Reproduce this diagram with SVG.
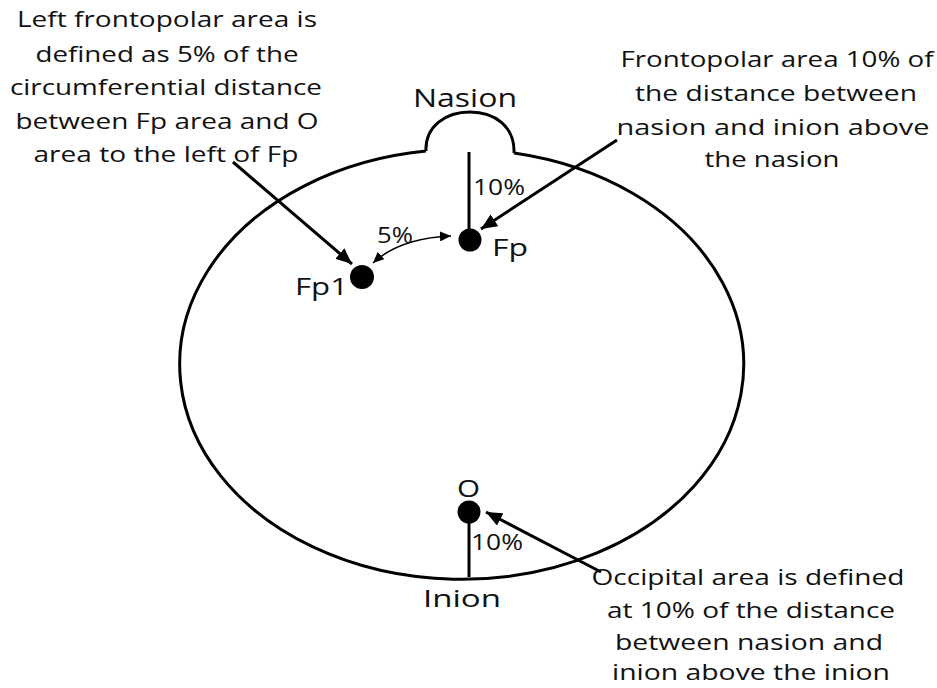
<svg xmlns="http://www.w3.org/2000/svg" width="937" height="688" viewBox="0 0 937 688">
<style>
text{font-family:"Open Sans","Liberation Sans",sans-serif;fill:#111;font-weight:500;}
.blk{font-size:22px;text-anchor:middle;}
.lbl{font-size:24px;}
.ln{stroke:#000;stroke-width:3;fill:none;}
.thin{stroke:#000;stroke-width:1.5;fill:none;}
</style>
<defs>
<marker id="ah" markerUnits="userSpaceOnUse" markerWidth="18" markerHeight="14" refX="16" refY="7" orient="auto">
<path d="M0,0 L16,7 L0,14 Z" fill="#000"/>
</marker>
<marker id="sh" markerUnits="userSpaceOnUse" markerWidth="12" markerHeight="10" refX="11" refY="5" orient="auto-start-reverse">
<path d="M0,0 L11,5 L0,10 Z" fill="#000"/>
</marker>
</defs>
<rect width="937" height="688" fill="#fff"/>
<g id="head">
<path class="ln" d="M426,151 A282,215 0 1 0 514,153"/>
<path class="ln" d="M426,151 C425,126 446,112 470,112 C494,112 515,126 514,153"/>
</g>
<g id="connectors">
<line class="ln" x1="469" y1="152" x2="469" y2="240"/>
<line class="ln" x1="469" y1="512" x2="469" y2="577"/>
<line class="ln" x1="233" y1="162" x2="352" y2="264" marker-end="url(#ah)"/>
<line class="ln" x1="617" y1="140" x2="481" y2="229" marker-end="url(#ah)"/>
<line class="ln" x1="601" y1="572" x2="486" y2="512" marker-end="url(#ah)"/>
<path class="thin" d="M373,263 Q400,238 451,236" marker-start="url(#sh)" marker-end="url(#sh)"/>
</g>
<g id="nasion"><text class="lbl" x="413" y="107" textLength="104" lengthAdjust="spacingAndGlyphs" style="font-size:25px">Nasion</text></g>
<g id="fp">
<circle cx="470" cy="240" r="11.5" fill="#000"/>
<text class="lbl" x="492" y="256" textLength="36" lengthAdjust="spacingAndGlyphs">Fp</text>
<text class="lbl" x="473" y="195" textLength="52" lengthAdjust="spacingAndGlyphs" style="font-size:21px">10%</text>
</g>
<g id="fp1">
<circle cx="362" cy="277" r="12" fill="#000"/>
<text class="lbl" x="295" y="295" textLength="53" lengthAdjust="spacingAndGlyphs">Fp1</text>
<text class="lbl" x="377" y="243" textLength="36" lengthAdjust="spacingAndGlyphs" style="font-size:21px">5%</text>
</g>
<g id="o">
<circle cx="469" cy="512" r="11.5" fill="#000"/>
<text class="lbl" x="457" y="497" textLength="23" lengthAdjust="spacingAndGlyphs">O</text>
<text class="lbl" x="471" y="550" textLength="52" lengthAdjust="spacingAndGlyphs" style="font-size:21px">10%</text>
</g>
<g id="inion"><text class="lbl" x="423" y="607" textLength="78" lengthAdjust="spacingAndGlyphs">Inion</text></g>
<g id="note-left">
<text class="blk" x="167" y="27" textLength="300" lengthAdjust="spacingAndGlyphs">Left frontopolar area is</text>
<text class="blk" x="167" y="62" textLength="263" lengthAdjust="spacingAndGlyphs">defined as 5% of the</text>
<text class="blk" x="166" y="95" textLength="312" lengthAdjust="spacingAndGlyphs">circumferential distance</text>
<text class="blk" x="167" y="129" textLength="303" lengthAdjust="spacingAndGlyphs">between Fp area and O</text>
<text class="blk" x="166" y="162" textLength="265" lengthAdjust="spacingAndGlyphs">area to the left of Fp</text>
</g>
<g id="note-right">
<text class="blk" x="777" y="67" textLength="313" lengthAdjust="spacingAndGlyphs">Frontopolar area 10% of</text>
<text class="blk" x="776" y="101" textLength="282" lengthAdjust="spacingAndGlyphs">the distance between</text>
<text class="blk" x="773" y="135" textLength="313" lengthAdjust="spacingAndGlyphs">nasion and inion above</text>
<text class="blk" x="772" y="167" textLength="135" lengthAdjust="spacingAndGlyphs">the nasion</text>
</g>
<g id="note-bottom">
<text class="blk" x="748" y="585" textLength="313" lengthAdjust="spacingAndGlyphs">Occipital area is defined</text>
<text class="blk" x="751" y="618" textLength="288" lengthAdjust="spacingAndGlyphs">at 10% of the distance</text>
<text class="blk" x="749" y="650" textLength="268" lengthAdjust="spacingAndGlyphs">between nasion and</text>
<text class="blk" x="751" y="680" textLength="278" lengthAdjust="spacingAndGlyphs">inion above the inion</text>
</g>
</svg>
